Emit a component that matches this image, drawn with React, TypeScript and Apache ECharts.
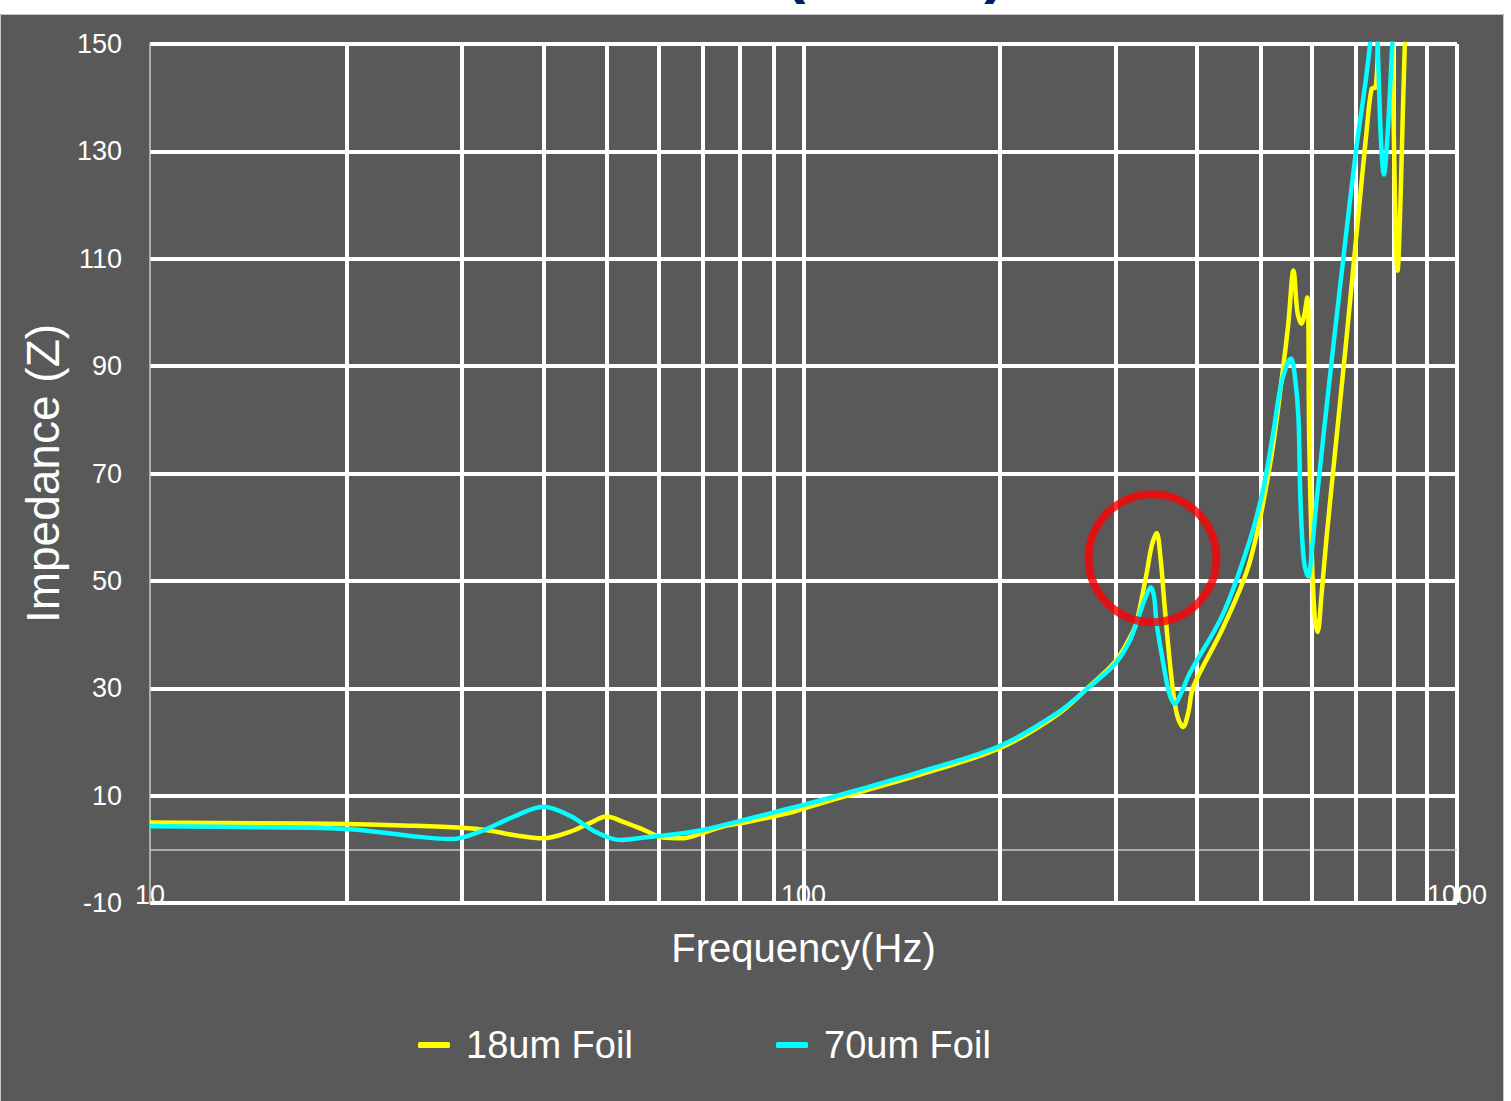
import React, { useEffect, useRef } from "react";
import * as echarts from "echarts";

// Frequency (Hz) and impedance values
const freq18 = [10, 15, 20, 25, 30, 33, 36, 40, 44, 47, 50, 53, 57, 61, 65, 70, 75, 80, 95.3, 100, 120.6, 152.6, 200, 244, 274, 300, 316, 323, 335, 341, 347, 352, 357, 366, 373, 381, 388, 395, 439, 482, 518, 542, 552, 562, 570, 578, 590, 594, 600, 606, 612, 620, 631, 654, 678, 700, 727, 740, 751, 758, 770, 785, 796, 804, 811, 820, 832, 850];
const imp18 = [5.0, 4.85, 4.7, 4.4, 4.0, 3.5, 2.66, 2.05, 3.3, 4.84, 6.1, 5.1, 3.6, 2.2, 2.05, 3.0, 4.2, 4.84, 6.8, 7.6, 10.5, 14.1, 18.9, 25.0, 30.4, 35.0, 39.5, 42.1, 51.4, 56.5, 58.9, 54, 45.2, 31.5, 25, 22.8, 25.5, 30.3, 41.4, 53.6, 72, 89.8, 98, 107.8, 100, 97.9, 102.8, 76.6, 53.8, 43, 40.5, 47, 57.6, 76.6, 95.6, 113.1, 133.6, 141.6, 142.0, 152, 175, 175, 150, 120, 107.8, 122, 150, 175];

const freq70 = [10, 15, 20, 25, 29, 32, 36, 40, 44, 48, 52.5, 57, 64, 70, 80, 95.3, 100, 120.6, 152.6, 200, 244, 274, 300, 316, 327, 334, 340, 344, 347, 356, 363, 370, 378, 390, 439, 482, 505, 524, 539, 557, 565, 572, 576, 583, 592, 600, 610, 639, 670, 700, 736, 746, 756, 765, 773, 782, 796, 810];
const imp70 = [4.3, 4.1, 3.8, 2.5, 1.9, 3.3, 6.07, 7.94, 6.2, 3.3, 1.73, 2.2, 2.85, 3.6, 5.3, 7.64, 8.25, 11.0, 14.6, 19.3, 25.3, 30.3, 34.6, 39.0, 43.96, 47, 48.8, 47, 42.1, 34.0, 29, 27.07, 29, 32.8, 43.96, 57.6, 67, 78, 87, 91.4, 88, 80.4, 65.2, 53.8, 50.8, 56, 65.2, 88.0, 110.1, 129.8, 150, 165, 150, 132, 125.7, 132, 150, 170];

const seriesNames = ["18um Foil", "70um Foil"];
const minorFreqs = [20, 30, 40, 50, 60, 70, 80, 90, 200, 300, 400, 500, 600, 700, 800, 900];
const highlightPoint = [342, 54.2];

const FONT = "'Liberation Sans', Arial, sans-serif";

export default function App() {
  const ref = useRef<HTMLDivElement>(null);

  useEffect(() => {
    if (!ref.current) return;
    const chart = echarts.init(ref.current, null, { renderer: "svg" });
    const legendBase = {
      icon: "roundRect",
      itemWidth: 32,
      itemHeight: 6,
      padding: 0,
      top: 1026,
      textStyle: { color: "#ffffff", fontSize: 38, fontFamily: FONT, padding: [0, 0, 0, 11] },
    };
    chart.setOption({
      animation: false,
      backgroundColor: "#595959",
      graphic: [
        { type: "rect", shape: { x: 0, y: 0, width: 1511, height: 14 }, style: { fill: "#ffffff" }, silent: true },
        { type: "rect", shape: { x: 1504, y: 0, width: 7, height: 1101 }, style: { fill: "#ffffff" }, silent: true },
        { type: "rect", shape: { x: 0.5, y: 14.5, width: 1503, height: 1100 }, style: { fill: null, stroke: "#c8c8c8", lineWidth: 1 }, silent: true },
        { type: "text", x: 795, y: 1, style: { text: "(", font: "bold 64px 'Liberation Sans'", fill: "#002060", textAlign: "center", textVerticalAlign: "bottom" }, silent: true },
        { type: "text", x: 995, y: 1, style: { text: ")", font: "bold 64px 'Liberation Sans'", fill: "#002060", textAlign: "center", textVerticalAlign: "bottom" }, silent: true },
      ],
      grid: { left: 150, right: 54, top: 44, bottom: 198, containLabel: false },
      legend: [
        { ...legendBase, data: [seriesNames[0]], left: 418 },
        { ...legendBase, data: [seriesNames[1]], left: 776 },
      ],
      xAxis: {
        type: "log",
        logBase: 10,
        min: 10,
        max: 1000,
        axisLine: { show: false, onZero: false },
        axisTick: { show: false },
        splitLine: { show: true, showMinLine: false, lineStyle: { color: "#ffffff", width: 4 } },
        axisLabel: { color: "#ffffff", fontSize: 27, fontFamily: FONT, margin: -22, formatter: (v: number) => String(Math.round(v)) },
        name: "Frequency(Hz)",
        nameLocation: "middle",
        nameGap: 25,
        nameTextStyle: { color: "#ffffff", fontSize: 40, fontFamily: FONT },
      },
      yAxis: {
        type: "value",
        min: -10,
        max: 150,
        interval: 20,
        axisLine: { show: true, lineStyle: { color: "#c8c8c8", width: 1.5 } },
        axisTick: { show: false },
        splitLine: { show: true, lineStyle: { color: "#ffffff", width: 4 } },
        axisLabel: { color: "#ffffff", fontSize: 27, fontFamily: FONT, margin: 28 },
        name: "Impedance (Z)",
        nameLocation: "middle",
        nameRotate: 90,
        nameGap: 75,
        nameTextStyle: { color: "#ffffff", fontSize: 46, fontFamily: FONT },
      },
      series: [
        {
          type: "line",
          data: [],
          silent: true,
          z: 1,
          markLine: {
            silent: true,
            z: 1,
            symbol: ["none", "none"],
            label: { show: false },
            emphasis: { disabled: true },
            lineStyle: { color: "#ffffff", width: 4, type: "solid" },
            data: [
              { yAxis: 0, lineStyle: { color: "#c8c8c8", width: 1.5, type: "solid" } },
              ...minorFreqs.map((f) => ({ xAxis: f })),
            ],
          },
        },
        {
          name: seriesNames[0],
          type: "line",
          data: freq18.map((f, i) => [f, imp18[i]]),
          showSymbol: false,
          symbol: "none",
          smooth: 0.35,
          clip: true,
          z: 3,
          lineStyle: { color: "#ffff00", width: 4.5 },
          itemStyle: { color: "#ffff00" },
        },
        {
          name: seriesNames[1],
          type: "line",
          data: freq70.map((f, i) => [f, imp70[i]]),
          showSymbol: false,
          symbol: "none",
          smooth: 0.35,
          clip: true,
          z: 4,
          lineStyle: { color: "#00ffff", width: 4.5 },
          itemStyle: { color: "#00ffff" },
        },
        {
          type: "scatter",
          data: [highlightPoint],
          symbol: "circle",
          symbolSize: 128,
          silent: true,
          z: 10,
          itemStyle: { color: "rgba(0,0,0,0)", borderColor: "#ff0000", borderWidth: 8 },
        },
      ],
    });
    return () => chart.dispose();
  }, []);

  return <div ref={ref} style={{ position: "fixed", left: 0, top: 0, width: 1511, height: 1101 }} />;
}
